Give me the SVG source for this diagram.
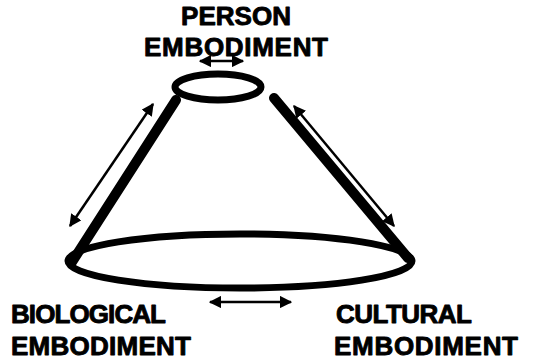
<svg xmlns="http://www.w3.org/2000/svg" width="546" height="361" viewBox="0 0 546 361">
<style>
.lbl{font-family:"Liberation Sans",Arial,sans-serif;font-weight:bold;font-size:26px;fill:#000;stroke:#000;stroke-width:0.9;stroke-linejoin:round}
.rim{fill:none;stroke:#000;stroke-width:7}
.side{stroke:#000;stroke-width:10;stroke-linecap:round}
.conn{stroke:#000;stroke-width:2.5;fill:none;marker-start:url(#ah);marker-end:url(#ah)}
</style>
<defs>
<marker id="ah" viewBox="0 0 10 10" refX="9" refY="5" markerWidth="5" markerHeight="5" orient="auto-start-reverse" markerUnits="strokeWidth">
<path d="M0,0 L10,5 L0,10 z" fill="#000"/>
</marker>
</defs>
<rect width="546" height="361" fill="#fff"/>
<g id="cone">
<line class="side" x1="176" y1="100" x2="72" y2="262"/>
<line class="side" x1="274" y1="98" x2="408" y2="258"/>
<ellipse class="rim" cx="240" cy="261" rx="172" ry="27" stroke-width="8"/>
</g>
<g id="person">
<ellipse class="rim" cx="218" cy="87" rx="43" ry="13"/>
<text class="lbl" x="236" y="25" text-anchor="middle" textLength="110">PERSON</text>
<text class="lbl" x="236" y="56" text-anchor="middle" textLength="184">EMBODIMENT</text>
</g>
<g id="biological">
<text class="lbl" x="11" y="323" textLength="155">BIOLOGICAL</text>
<text class="lbl" x="11" y="355" textLength="180">EMBODIMENT</text>
</g>
<g id="cultural">
<text class="lbl" x="336" y="323" textLength="136">CULTURAL</text>
<text class="lbl" x="334" y="355" textLength="184">EMBODIMENT</text>
</g>
<g id="connectors">
<line class="conn" x1="153" y1="104" x2="70" y2="226"/>
<line class="conn" x1="294" y1="106" x2="394" y2="226"/>
<line class="conn" x1="210" y1="302" x2="291" y2="302"/>
<line class="conn" x1="200" y1="61" x2="243" y2="61"/>
</g>
</svg>
